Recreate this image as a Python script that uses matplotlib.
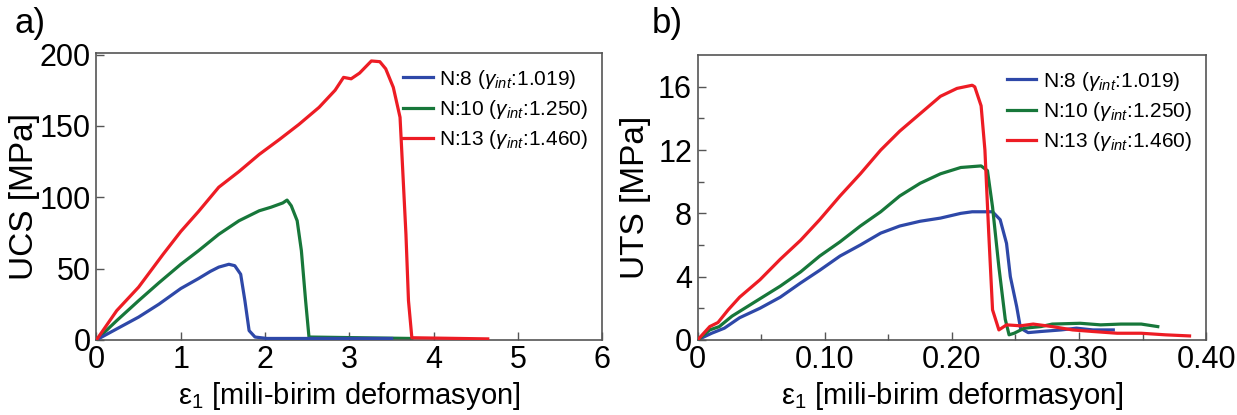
import matplotlib
matplotlib.use("Agg")
import matplotlib.pyplot as plt
from matplotlib.ticker import FixedLocator

plt.rcParams['font.family'] = ['Liberation Sans', 'DejaVu Sans']
plt.rcParams['mathtext.fontset'] = 'custom'
plt.rcParams['mathtext.rm'] = 'Liberation Sans'
plt.rcParams['mathtext.it'] = 'Liberation Sans:italic'

BLUE = '#2e48a8'
GREEN = '#17773a'
RED = '#ed1c24'

labels = [r'N:8 ($\gamma_{int}$:1.019)',
          r'N:10 ($\gamma_{int}$:1.250)',
          r'N:13 ($\gamma_{int}$:1.460)']

# --- a) UCS curves (strain in milli-strain, stress in MPa)
ucs_n8_x = [0, 0.24, 0.5, 0.74, 1.0, 1.21, 1.35, 1.45, 1.57, 1.64, 1.71, 1.76, 1.81, 1.88, 2.02, 3.5]
ucs_n8_y = [0, 7.7, 16, 25, 36, 43, 48, 51, 53, 52, 46, 27.5, 6.5, 2, 1, 1]

ucs_n10_x = [0, 0.24, 0.5, 0.74, 1.0, 1.21, 1.45, 1.69, 1.93, 2.07, 2.21, 2.26, 2.31, 2.38,
             2.43, 2.48, 2.52, 3.74]
ucs_n10_y = [0, 13.5, 27.5, 40, 53, 62.5, 74, 83.5, 90.5, 93, 96, 98, 94, 83.5,
             62.5, 27.5, 2, 1]

ucs_n13_x = [0, 0.24, 0.5, 0.79, 1.0, 1.21, 1.45, 1.69, 1.93, 2.17, 2.40, 2.64, 2.83, 2.93,
             3.02, 3.12, 3.26, 3.36, 3.43, 3.52, 3.60, 3.63, 3.67, 3.70, 3.74, 4.64]
ucs_n13_y = [0, 20.5, 37, 60, 76, 90, 107, 118, 130, 140.5, 151, 163, 175, 184,
             183, 187, 195.5, 195, 190, 177, 156, 121, 74, 27.5, 1.5, 0.7]

# --- b) UTS curves
uts_n8_x = [0, 0.011, 0.021, 0.033, 0.049, 0.065, 0.081, 0.096, 0.112, 0.128, 0.144, 0.159,
            0.175, 0.191, 0.207, 0.216, 0.232, 0.238, 0.243, 0.246, 0.251, 0.254, 0.260,
            0.270, 0.286, 0.298, 0.311, 0.327]
uts_n8_y = [0, 0.42, 0.74, 1.4, 2.0, 2.7, 3.6, 4.4, 5.3, 6.0, 6.75, 7.2,
            7.5, 7.7, 8.0, 8.1, 8.1, 7.6, 6.1, 4.0, 2.1, 0.74, 0.46,
            0.53, 0.63, 0.74, 0.63, 0.63]

uts_n10_x = [0, 0.0095, 0.017, 0.027, 0.043, 0.065, 0.081, 0.096, 0.112, 0.128, 0.144, 0.159,
             0.175, 0.191, 0.207, 0.223, 0.228, 0.232, 0.237, 0.242, 0.245, 0.249, 0.257,
             0.270, 0.279, 0.301, 0.317, 0.333, 0.349, 0.362]
uts_n10_y = [0, 0.63, 0.84, 1.5, 2.3, 3.4, 4.3, 5.3, 6.2, 7.2, 8.1, 9.1,
             9.9, 10.5, 10.9, 11.0, 10.7, 8.4, 4.6, 1.3, 0.32, 0.42, 0.74,
             0.84, 1.0, 1.05, 0.95, 1.0, 1.0, 0.84]

uts_n13_x = [0, 0.0095, 0.016, 0.024, 0.033, 0.049, 0.065, 0.081, 0.096, 0.112, 0.128, 0.144,
             0.159, 0.175, 0.191, 0.204, 0.216, 0.218, 0.223, 0.226, 0.229, 0.232, 0.237,
             0.243, 0.254, 0.264, 0.279, 0.295, 0.311, 0.330, 0.349, 0.368, 0.387]
uts_n13_y = [0, 0.84, 1.1, 1.9, 2.7, 3.8, 5.1, 6.3, 7.6, 9.1, 10.5, 12.0,
             13.2, 14.3, 15.4, 15.9, 16.1, 16.0, 14.8, 12.0, 6.75, 1.9, 0.63,
             0.95, 0.89, 1.0, 0.84, 0.63, 0.53, 0.42, 0.42, 0.32, 0.25]

fig = plt.figure(figsize=(12.37, 4.15), dpi=100)
ax1 = fig.add_axes([0.078, 0.181, 0.409, 0.691])
ax2 = fig.add_axes([0.564, 0.181, 0.411, 0.686])

lw = 2.3
ax1.plot(ucs_n8_x, ucs_n8_y, color=BLUE, lw=lw, label=labels[0], zorder=3)
ax1.plot(ucs_n10_x, ucs_n10_y, color=GREEN, lw=lw, label=labels[1], zorder=2)
ax1.plot(ucs_n13_x, ucs_n13_y, color=RED, lw=lw, label=labels[2], zorder=4)

ax2.plot(uts_n8_x, uts_n8_y, color=BLUE, lw=lw, label=labels[0], zorder=2)
ax2.plot(uts_n10_x, uts_n10_y, color=GREEN, lw=lw, label=labels[1], zorder=3)
ax2.plot(uts_n13_x, uts_n13_y, color=RED, lw=lw, label=labels[2], zorder=4)

ax1.set_xlim(0, 6)
ax1.set_ylim(0, 201)
ax1.set_xticks(range(0, 7))
ax1.set_yticks([0, 50, 100, 150, 200])
ax1.set_ylabel('UCS [MPa]', fontsize=24, labelpad=0)

ax2.set_xlim(0, 0.40)
ax2.set_ylim(0, 18)
ax2.set_xticks([0, 0.10, 0.20, 0.30, 0.40])
ax2.set_xticklabels(['0', '0.10', '0.20', '0.30', '0.40'])
ax2.set_yticks([0, 4, 8, 12, 16])
ax2.xaxis.set_minor_locator(FixedLocator([0.05, 0.15, 0.25, 0.35]))
ax2.yaxis.set_minor_locator(FixedLocator([2, 6, 10, 14]))
ax2.set_ylabel('UTS [MPa]', fontsize=24, labelpad=5)

for ax in (ax1, ax2):
    ax.set_xlabel(r'ε$_1$ [mili-birim deformasyon]', fontsize=21, labelpad=3)
    ax.tick_params(which='major', direction='in', length=6, width=1, labelsize=22,
                   color='#555555', pad=4)
    ax.tick_params(which='minor', direction='in', length=4, width=1, color='#555555')
    for s in ax.spines.values():
        s.set_color('#555555')
        s.set_linewidth(1.2)
    ax.legend(loc='upper right', frameon=False, fontsize=15, handlelength=1.4,
              handletextpad=0.3, labelspacing=0.35, borderaxespad=0.3)

fig.text(0.012, 0.92, 'a)', fontsize=25)
fig.text(0.527, 0.92, 'b)', fontsize=25)

fig.savefig('out.png', dpi=100)
